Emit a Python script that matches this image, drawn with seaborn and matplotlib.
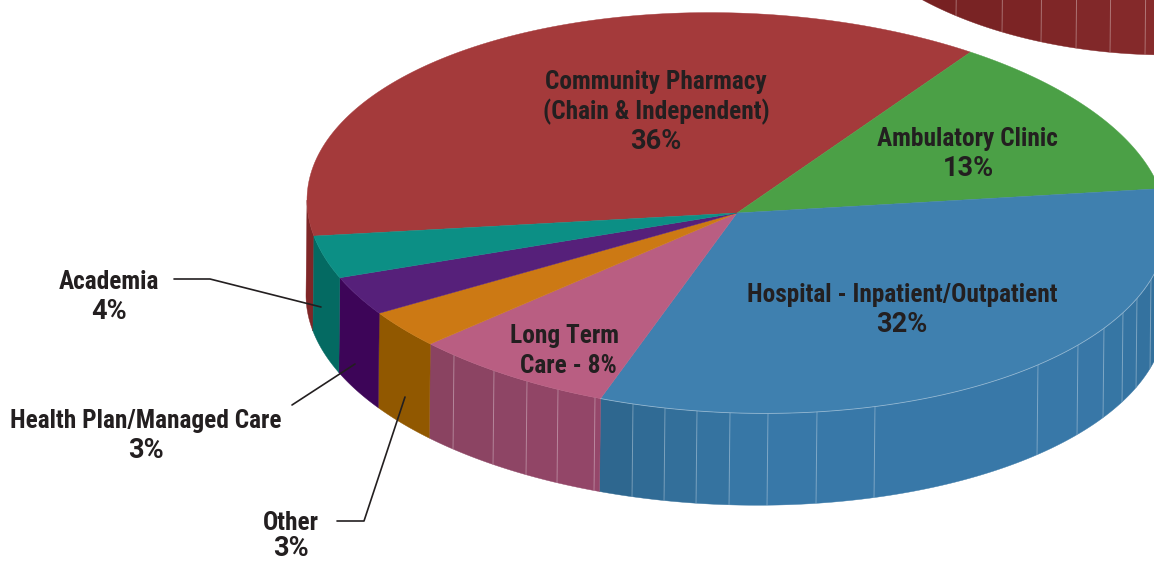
import numpy as np
import pandas as pd
import matplotlib
matplotlib.use('Agg')
import matplotlib.pyplot as plt
import seaborn as sns

# Slices, clockwise from the Community Pharmacy / Academia edge.
segments = ['Community Pharmacy', 'Ambulatory Clinic', 'Hospital', 'Long Term Care',
            'Other', 'Health Plan/Managed Care', 'Academia']
shares = [37.0, 12.9, 33.1, 7.5, 3.0, 3.1, 3.4]
top_colors = ['#A43A3B', '#4BA046', '#3F80AF', '#B95E82', '#CC7914', '#56207A', '#0C8F85']
side_colors = ['#7F2627', '#3B8238', '#3776A5', '#8F4563', '#915800', '#3D0558', '#046A62']

# x positions of the thin seams on the pie wall
hospital_seams = [633, 665, 697, 730, 768, 817, 875, 1038, 1078, 1104, 1123, 1137, 1151]
care_seams = [454, 494, 527, 558, 595]
neighbour_seams = [957, 1003, 1042, 1077, 1111, 1146]

# Name lines: text, x, y
name_lines = [
    ('Community Pharmacy', 656, 82),
    ('(Chain & Independent)', 656, 112),
    ('Ambulatory Clinic', 967, 139),
    ('Hospital - Inpatient/Outpatient', 902, 295),
    ('Long Term', 565, 336),
    ('Care - 8%', 568, 366),
    ('Academia', 109, 282),
    ('Health Plan/Managed Care', 146, 421),
    ('Other', 291, 523),
]
# Percent lines are set wider in the original
pct_lines = [
    ('36%', 656, 141),
    ('13%', 968, 168),
    ('32%', 902, 324),
    ('4%', 109, 311),
    ('3%', 146, 450),
    ('3%', 291, 548),
]
leader_academia = ([174, 210, 321], [279, 279, 307])
leader_health = ([292, 355], [405, 364])
leader_other = ([337, 364, 405], [521, 521, 397])

CX, CY, RX, RY, DEPTH, TILT = 737, 213, 430, 200, 92, 0.03
FLOOR_TILT = -0.007
START = 190.3

sns.set_theme(style='white')
plt.rcParams['font.family'] = ['Roboto Condensed', 'Liberation Sans', 'DejaVu Sans']

fig = plt.figure(figsize=(11.54, 5.61), dpi=100)
ax = fig.add_axes([0, 0, 1, 1])
ax.set_xlim(0, 1154)
ax.set_ylim(561, 0)
ax.axis('off')


def ell(a, cx=CX, cy=CY, rx=RX, ry=RY, tilt=TILT):
    a = np.radians(a)
    x = cx + rx * np.cos(a)
    return x, cy - ry * np.sin(a) + tilt * (x - cx)


def wall(a0, a1, color, cx=CX, cy=CY, rx=RX, ry=RY, depth=DEPTH, tilt=TILT, floor=FLOOR_TILT, z=2):
    # wall piece between two angles
    a = np.linspace(a0, a1, 60)
    x, y = ell(a, cx, cy, rx, ry, tilt)
    bottom = y + depth + floor * (x - cx)
    ax.fill(np.r_[x, x[::-1] - 1], np.r_[y, bottom[::-1]], color=color, lw=0.3, zorder=z)


def seam_angle(x, cx=CX, rx=RX):
    return -np.degrees(np.arccos((x - cx) / rx))


def seams(xs, cx=CX, cy=CY, rx=RX, ry=RY, depth=DEPTH, tilt=TILT, floor=FLOOR_TILT):
    for sx in xs:
        a = seam_angle(sx, cx, rx)
        x, y = ell(a, cx, cy, rx, ry, tilt)
        ax.plot([x, x - 1], [y, y + depth + floor * (x - cx)], color='white', lw=0.7, alpha=0.3, zorder=3)


# Neighbouring pie, just its wall shows at the top right
NX, NY, NRX, NRY = 1170, -227, 350, 190
n_edges = [-135] + [seam_angle(s, NX, NRX) for s in neighbour_seams] + [-85]
n_cols = sns.blend_palette(['#772122', '#862B2C'], n_colors=len(n_edges) - 1)
for i in range(len(n_edges) - 1):
    wall(n_edges[i], n_edges[i + 1], n_cols[i], NX, NY, NRX, NRY, tilt=0, floor=0)
seams(neighbour_seams, NX, NY, NRX, NRY, tilt=0, floor=0)
wall(-137.5, -135, '#2F6A93', NX, NY, NRX, NRY, tilt=0, floor=0)

# Slice angles come from the shares
df = pd.DataFrame({'segment': segments, 'share': shares, 'top': top_colors, 'side': side_colors})
df['sweep'] = df['share'] / df['share'].sum() * 360
df['a0'] = START - df['sweep'].cumsum().shift(fill_value=0)
df['a1'] = df['a0'] - df['sweep']

for _, row in df.iterrows():
    lo = max(row['a1'], -180)
    hi = min(row['a0'], 0)
    if row['segment'] == 'Community Pharmacy':
        # only the far left end of the wall is in view
        wall(180, row['a0'], row['side'])
    elif row['segment'] == 'Hospital':
        edges = [lo] + [seam_angle(s) for s in hospital_seams] + [hi]
        cols = sns.blend_palette(['#2E678F', '#3878A8', '#3878A8', '#33709C'], n_colors=len(edges) - 1)
        for i in range(len(edges) - 1):
            wall(edges[i], edges[i + 1], cols[i])
    elif row['segment'] == 'Long Term Care':
        edges = [lo] + [seam_angle(s) for s in care_seams] + [hi]
        cols = sns.blend_palette(['#8A4361', '#95476A'], n_colors=len(edges) - 1)
        for i in range(len(edges) - 1):
            wall(edges[i], edges[i + 1], cols[i])
    elif hi > lo:
        wall(lo, hi, row['side'])

seams(hospital_seams)
seams(care_seams)

# Top face
for _, row in df.iterrows():
    a = np.linspace(row['a0'], row['a1'], 120)
    x, y = ell(a)
    ax.fill(np.r_[CX, x], np.r_[CY, y], color=row['top'], lw=0.3, zorder=4)

# pale rim on the front of the hospital slice
rim = df[df['segment'] == 'Hospital'].iloc[0]
x, y = ell(np.linspace(rim['a1'], 0, 120))
ax.plot(x, y, color='white', lw=0.6, alpha=0.4, zorder=5)

for xs, ys in [leader_academia, leader_health, leader_other]:
    sns.lineplot(x=xs, y=ys, sort=False, estimator=None, color='#231F20', lw=1.2, ax=ax, zorder=6)

for text, x, y in name_lines:
    ax.text(x, y, text, ha='center', va='center', color='#231F20', fontsize=18.3,
            fontweight='bold', zorder=7)
for text, x, y in pct_lines:
    ax.text(x, y, text, ha='center', va='center', color='#231F20', fontsize=19.5,
            fontweight='bold', family=['Roboto', 'DejaVu Sans'], zorder=7)

ax.set_xlim(0, 1154)
ax.set_ylim(561, 0)
fig.savefig('out.png', dpi=100, facecolor='white')
